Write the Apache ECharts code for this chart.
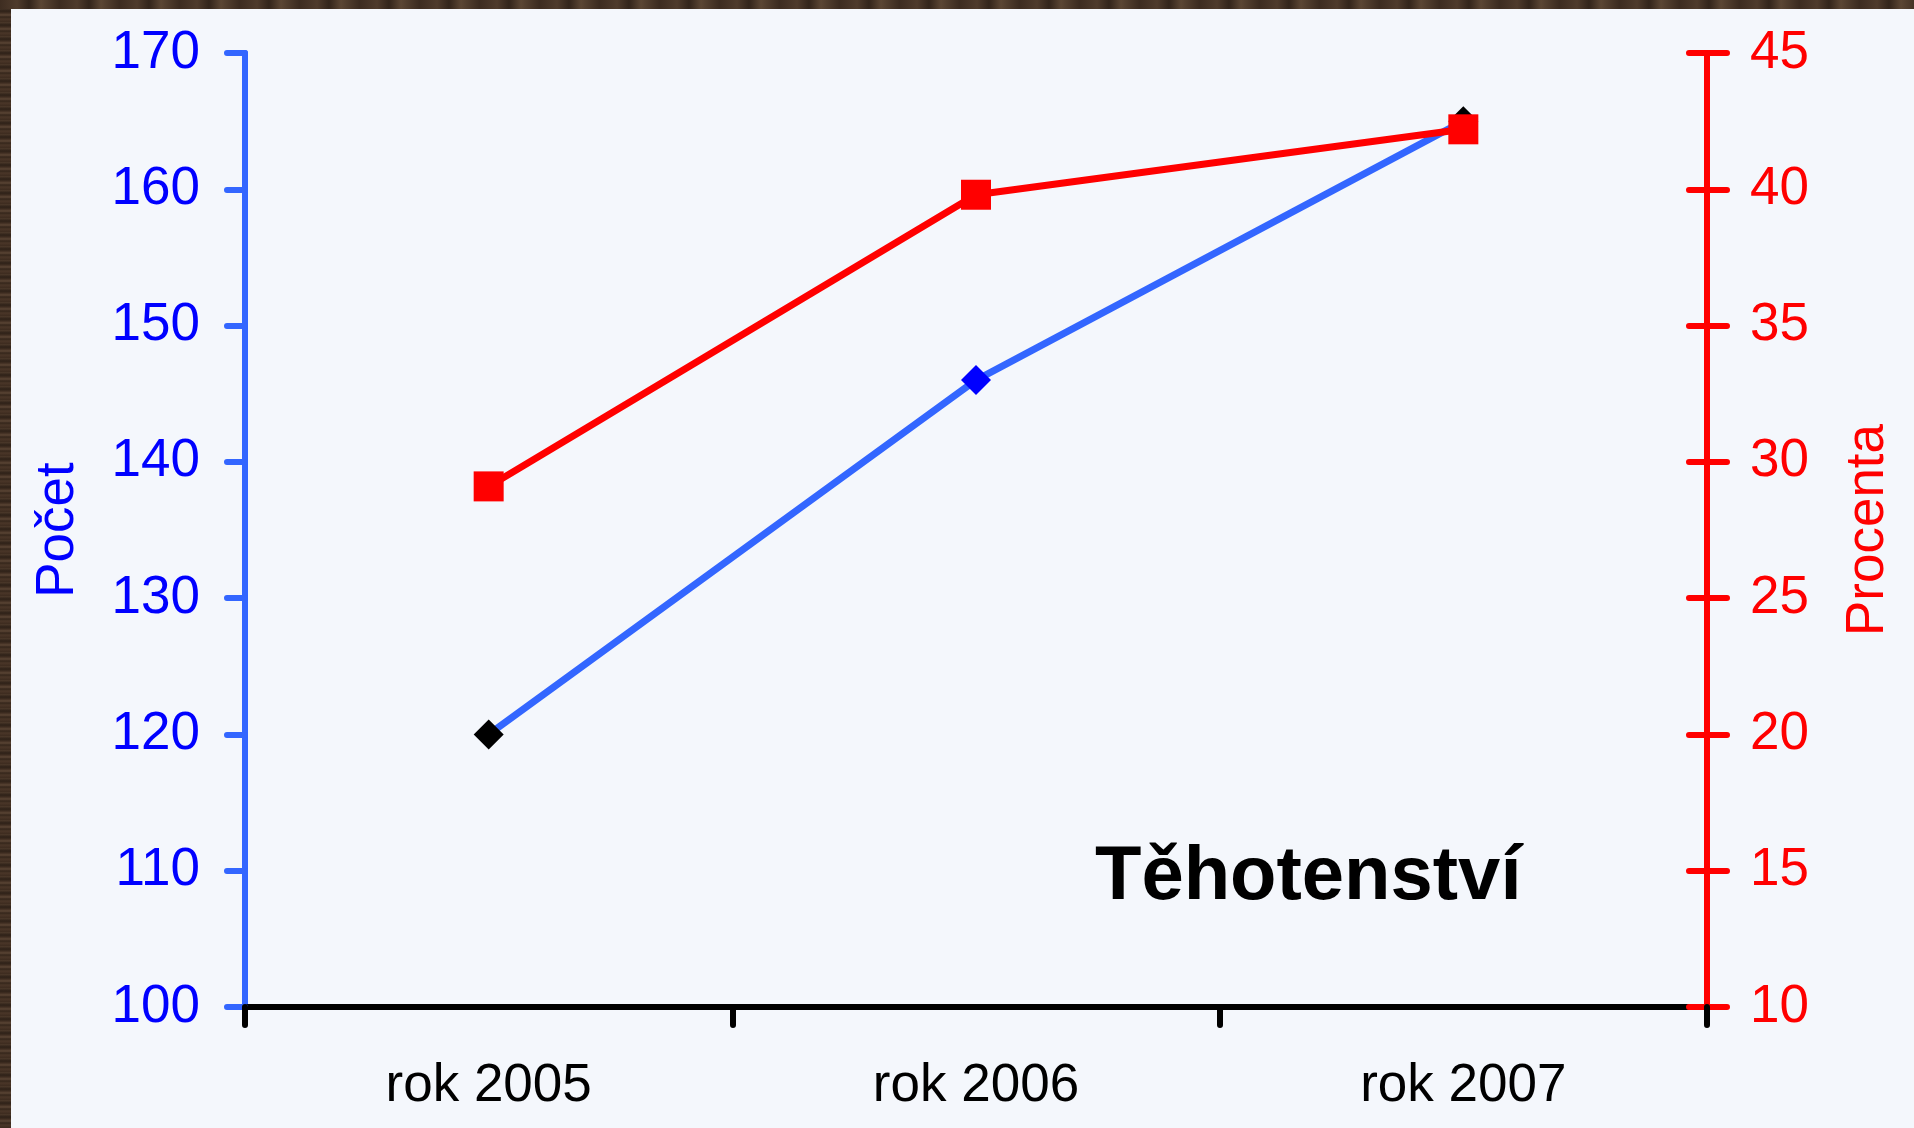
<!DOCTYPE html>
<html>
<head>
<meta charset="utf-8">
<script src="https://cdn.jsdelivr.net/npm/echarts@6/dist/echarts.min.js"></script>
<style>
  html, body { margin: 0; padding: 0; width: 1914px; height: 1128px; overflow: hidden; }
  body {
    background:
      repeating-linear-gradient(0deg, #3d2b1f 0px, #4a3628 3px, #35261b 5px, #5a4534 7px, #3f2d21 9px, #2e2118 11px, #4d3a2b 14px);
  }
  #frameTop {
    position: absolute; left: 0; top: 0; width: 1914px; height: 9px;
    background: repeating-linear-gradient(90deg, #3e2d21 0px, #4f3b2c 17px, #33251b 29px, #5b4634 41px, #3a2a1f 60px);
  }
  #chart { position: absolute; left: 11px; top: 9px; width: 1903px; height: 1119px; background: #f4f7fc; }
</style>
</head>
<body>
<div id="frameTop"></div>
<div id="chart"></div>
<script>
const categories = ['rok 2005', 'rok 2006', 'rok 2007'];
const pocetValues = [120, 146, 165];
const pocetMarkerColors = ['#000000', '#0000ff', '#000000'];
const procentaValues = [29.1, 39.8, 42.2];
const leftTicks = { min: 100, max: 170, interval: 10 };
const rightTicks = { min: 10, max: 45, interval: 5 };
const chartTitle = 'Těhotenství';
const leftName = 'Počet';
const rightName = 'Procenta';

const FONT = '"Liberation Sans", Arial, sans-serif';
const chart = echarts.init(document.getElementById('chart'), null, { renderer: 'canvas' });

chart.setOption({
  backgroundColor: '#f4f7fc',
  animation: false,
  grid: { left: 234, right: 207, top: 44, bottom: 121, containLabel: false },
  xAxis: {
    type: 'category',
    data: categories,
    boundaryGap: true,
    axisLine: { show: true, lineStyle: { color: '#000000', width: 6, cap: 'round' } },
    axisTick: { show: true, length: 18, lineStyle: { color: '#000000', width: 6, cap: 'round' } },
    axisLabel: { color: '#000000', fontSize: 53, fontFamily: FONT, margin: 53 },
    splitLine: { show: false }
  },
  yAxis: [
    {
      type: 'value', position: 'left',
      min: leftTicks.min, max: leftTicks.max, interval: leftTicks.interval,
      name: leftName, nameLocation: 'middle', nameRotate: 90, nameGap: 160,
      nameTextStyle: { color: '#0000ff', fontSize: 53, fontFamily: FONT },
      axisLine: { show: true, lineStyle: { color: '#3366ff', width: 6, cap: 'round' } },
      axisTick: { show: true, length: 18, lineStyle: { color: '#3366ff', width: 6, cap: 'round' } },
      axisLabel: { color: '#0000ff', fontSize: 53, fontFamily: FONT, margin: 45, padding: [14, 0, 0, 0] },
      splitLine: { show: false }
    },
    {
      type: 'value', position: 'right',
      min: rightTicks.min, max: rightTicks.max, interval: rightTicks.interval,
      name: rightName, nameLocation: 'middle', nameRotate: 90, nameGap: 135,
      nameTextStyle: { color: '#ff0000', fontSize: 53, fontFamily: FONT },
      axisLine: { show: true, lineStyle: { color: '#ff0000', width: 6, cap: 'round' } },
      axisTick: { show: true, inside: true, length: 18, lineStyle: { color: '#ff0000', width: 6, cap: 'round' } },
      axisLabel: { color: '#ff0000', fontSize: 53, fontFamily: FONT, margin: 43, padding: [14, 0, 0, 0] },
      splitLine: { show: false }
    },
    {
      type: 'value', position: 'right', offset: 0,
      min: rightTicks.min, max: rightTicks.max, interval: rightTicks.interval,
      axisLine: { show: false },
      axisTick: { show: true, inside: false, length: 20, lineStyle: { color: '#ff0000', width: 6, cap: 'round' } },
      axisLabel: { show: false },
      splitLine: { show: false }
    }
  ],
  graphic: [
    {
      type: 'text', left: 1084, top: 831,
      style: { text: chartTitle, fill: '#000000', font: 'bold 76px ' + FONT }
    }
  ],
  series: [
    {
      name: leftName, type: 'line', yAxisIndex: 0,
      data: pocetValues.map((v, i) => ({ value: v, itemStyle: { color: pocetMarkerColors[i] } })),
      symbol: 'diamond', symbolSize: 30,
      lineStyle: { color: '#3366ff', width: 7 },
      itemStyle: { color: '#0000ff' },
      z: 2
    },
    {
      name: rightName, type: 'line', yAxisIndex: 1,
      data: procentaValues,
      symbol: 'rect', symbolSize: 30,
      lineStyle: { color: '#ff0000', width: 7 },
      itemStyle: { color: '#ff0000' },
      z: 3
    }
  ]
});
</script>
</body>
</html>
